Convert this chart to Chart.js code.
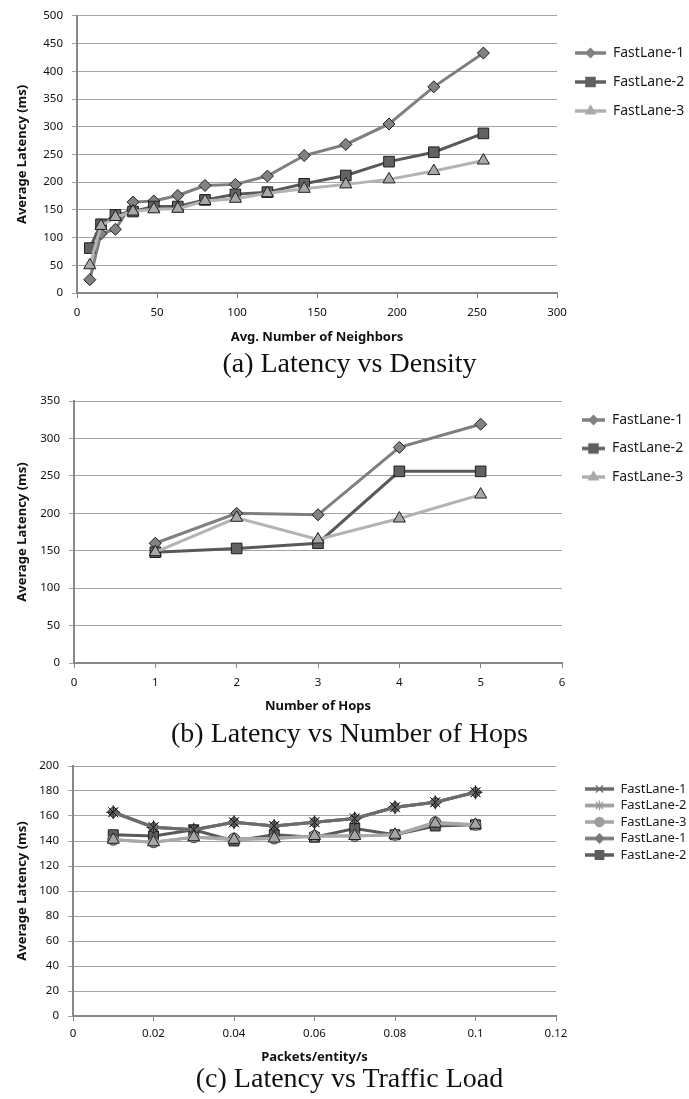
<!DOCTYPE html>
<html><head><meta charset="utf-8">
<script src="https://cdn.jsdelivr.net/npm/chart.js@4/dist/chart.umd.min.js"></script>
<style>
html,body{margin:0;padding:0;background:#fff}
body{width:689px;height:1099px;position:relative;overflow:hidden}
canvas{position:absolute;left:0}
.cap{position:absolute;left:0;width:689px;text-align:center;font-family:"Liberation Serif",serif;font-size:28px;line-height:32px;color:#111;padding-left:10px;box-sizing:border-box;white-space:nowrap}
</style></head>
<body>
<canvas id="ca" width="689" height="348" style="top:0px"></canvas>
<canvas id="cb" width="689" height="340" style="top:378px"></canvas>
<canvas id="cc" width="689" height="320" style="top:748px"></canvas>
<div class="cap" style="top:347px">(a) Latency vs Density</div>
<div class="cap" style="top:717px">(b) Latency vs Number of Hops</div>
<div class="cap" style="top:1062px">(c) Latency vs Traffic Load</div>
<script>
// ---------- data ----------
const densityNeighbors = [8, 15, 24, 35, 48, 63, 80, 99, 119, 142, 168, 195, 223, 254];
const densityFastLane1 = [24, 107, 115, 164, 166, 176, 194, 196, 211, 248, 268, 305, 372, 433];
const densityFastLane2 = [81, 124, 141, 147, 156, 156, 168, 178, 182, 197, 212, 237, 254, 288];
const densityFastLane3 = [50, 121, 137, 147, 151, 152, 166, 170, 180, 188, 196, 205, 220, 239];

const hopsCount = [1, 2, 3, 4, 5];
const hopsFastLane1 = [160, 200, 198, 288, 319];
const hopsFastLane2 = [148, 153, 160, 256, 256];
const hopsFastLane3 = [148, 194, 165, 193, 225];

const loadRate = [0.01, 0.02, 0.03, 0.04, 0.05, 0.06, 0.07, 0.08, 0.09, 0.1];
const loadFastLane1Cross = [163, 151, 149, 155, 152, 155, 158, 167, 171, 179];
const loadFastLane2Star = [163, 151, 149, 155, 152, 155, 158, 167, 171, 179];
const loadFastLane3Circle = [141, 139, 143, 142, 142, 144, 144, 145, 155, 153];
const loadFastLane1Diamond = [163, 151, 149, 155, 152, 155, 158, 167, 171, 179];
const loadFastLane2Square = [145, 144, 149, 140, 145, 143, 150, 145, 152, 153];
const loadFastLane3Triangle = [141, 139, 143, 141, 142, 144, 144, 145, 154, 153];

const seriesNames = ['FastLane-1', 'FastLane-2', 'FastLane-3'];
const yTitle = 'Average Latency (ms)';

// ---------- styling helpers ----------
const tickFont = {family: '"Noto Sans", sans-serif', size: 11.5};
const titleFont = {family: '"Noto Sans", sans-serif', size: 13, weight: 'bold'};
const AXIS = '#878787', GRID = '#a3a3a3', TXT = '#111';

function iconR(w, h, lineColor, shape, fill, edge, r) {
  const c = document.createElement('canvas');
  c.width = w; c.height = h;
  const ctx = c.getContext('2d');
  ctx.strokeStyle = lineColor; ctx.lineWidth = 3.5;
  ctx.beginPath(); ctx.moveTo(3, h / 2); ctx.lineTo(w, h / 2); ctx.stroke();
  ctx.fillStyle = fill; ctx.strokeStyle = edge; ctx.lineWidth = 1.3;
  Chart.helpers.drawPoint(ctx, {pointStyle: shape, rotation: 0, radius: r, borderWidth: 1.3}, (3 + w) / 2, h / 2);
  return c;
}

function series(label, xs, ys, st) {
  return {
    label, data: xs.map((x, i) => ({x, y: ys[i]})),
    borderColor: st.line, borderWidth: 3, backgroundColor: st.fill,
    pointStyle: st.shape, pointRadius: st.r, pointBackgroundColor: st.fill,
    pointBorderColor: st.edge, pointBorderWidth: st.ew === undefined ? 1 : st.ew,
    tension: 0, fill: false, order: st.order, clip: false
  };
}

function placeLegend(left, top) {
  return {
    id: 'placeLegend',
    afterLayout(chart) {
      const lg = chart.legend; if (!lg) return;
      const w = lg.width, h = lg.height;
      lg.left = left; lg.top = top; lg.right = left + w; lg.bottom = top + h;
    }
  };
}

function build(id, g) {
  return new Chart(document.getElementById(id), {
    type: 'line',
    data: {datasets: g.datasets},
    options: {
      responsive: false, animation: false, devicePixelRatio: 1, events: [],
      layout: {padding: {top: g.top, right: 689 - g.right, bottom: 0, left: 0}},
      scales: {
        x: {
          type: 'linear', min: g.xMin, max: g.xMax,
          ticks: {stepSize: g.xStep, font: tickFont, color: TXT, padding: g.xTickPad,
                  callback: v => String(+v.toFixed(2))},
          grid: {drawOnChartArea: false, drawTicks: true, tickLength: 5, color: AXIS},
          border: {color: AXIS, width: 2},
          title: {display: true, text: g.xTitle, font: titleFont, color: TXT, padding: {top: 0, bottom: g.xTitlePad}},
          afterFit(s) { s.height = g.xH; }
        },
        y: {
          type: 'linear', min: g.yMin, max: g.yMax,
          ticks: {stepSize: g.yStep, font: tickFont, color: TXT, padding: 9},
          grid: {color: GRID, lineWidth: 1, drawTicks: true, tickLength: 5},
          border: {color: AXIS, width: 2},
          title: {display: true, text: yTitle, font: titleFont, color: TXT, padding: {top: 14, bottom: 0}},
          afterFit(s) { s.width = g.left; }
        }
      },
      plugins: {
        tooltip: {enabled: false},
        legend: {
          position: 'chartArea', align: 'start',
          labels: {
            usePointStyle: true, pointStyleWidth: g.iconW, padding: g.lgPad,
            font: {family: '"Noto Sans", sans-serif', size: g.lgFont}, color: '#1a1a1a',
            sort: (a, b) => a.datasetIndex - b.datasetIndex,
            filter: item => !(g.hide || []).includes(item.datasetIndex),
            generateLabels(chart) {
              const items = Chart.defaults.plugins.legend.labels.generateLabels(chart);
              items.forEach(it => { it.pointStyle = g.icons[it.datasetIndex]; });
              return items;
            }
          }
        }
      }
    },
    plugins: [placeLegend(g.lgLeft - g.lgPad, g.lgTop - g.lgPad)]
  });
}

// ---------- chart (a) ----------
const stA = [
  {line: '#7f7f7f', shape: 'rectRot', r: 6, fill: '#828282', edge: '#1e1e1e', order: 3},
  {line: '#595959', shape: 'rect', r: 7.5, fill: '#626262', edge: '#1e1e1e', order: 2},
  {line: '#b3b3b3', shape: 'triangle', r: 7, fill: '#a8a8a8', edge: '#1e1e1e', order: 1}
];
function stdIcons(w) {
  return [
    iconR(w, 14, '#808080', 'rectRot', '#808080', '#808080', 4.5),
    iconR(w, 14, '#606060', 'rect', '#606060', '#606060', 6.5),
    iconR(w, 14, '#b0b0b0', 'triangle', '#a9a9a9', '#a9a9a9', 5.5)
  ];
}
build('ca', {
  datasets: [
    series(seriesNames[0], densityNeighbors, densityFastLane1, stA[0]),
    series(seriesNames[1], densityNeighbors, densityFastLane2, stA[1]),
    series(seriesNames[2], densityNeighbors, densityFastLane3, stA[2])
  ],
  top: 13, right: 557, left: 77, xH: 55, xTickPad: 8, xTitlePad: 3,
  xMin: 0, xMax: 300, xStep: 50, yMin: 0, yMax: 500, yStep: 50,
  xTitle: 'Avg. Number of Neighbors',
  iconW: 34, lgPad: 15, lgFont: 14, lgLeft: 572, lgTop: 46, icons: stdIcons(34)
});

// ---------- chart (b) ----------
const stB = [
  {line: '#7f7f7f', shape: 'rectRot', r: 6, fill: '#828282', edge: '#1e1e1e', order: 3},
  {line: '#595959', shape: 'rect', r: 7.5, fill: '#626262', edge: '#1e1e1e', order: 2},
  {line: '#b3b3b3', shape: 'triangle', r: 7, fill: '#a8a8a8', edge: '#1e1e1e', order: 1}
];
build('cb', {
  datasets: [
    series(seriesNames[0], hopsCount, hopsFastLane1, stB[0]),
    series(seriesNames[1], hopsCount, hopsFastLane2, stB[1]),
    series(seriesNames[2], hopsCount, hopsFastLane3, stB[2])
  ],
  top: 23, right: 562, left: 74, xH: 55, xTickPad: 8, xTitlePad: 4,
  xMin: 0, xMax: 6, xStep: 1, yMin: 0, yMax: 350, yStep: 50,
  xTitle: 'Number of Hops',
  iconW: 26, lgPad: 14.5, lgFont: 14, lgLeft: 579, lgTop: 35, icons: stdIcons(26)
});

// ---------- chart (c) ----------
const stC = [
  {line: '#6b6b6b', shape: 'crossRot', r: 6.5, fill: '#6b6b6b', edge: '#111', ew: 1, order: 3},
  {line: '#8e8e8e', shape: 'star', r: 7, fill: '#8e8e8e', edge: '#222', ew: 1, order: 4},
  {line: '#a3a3a3', shape: 'circle', r: 5.5, fill: '#9c9c9c', edge: '#444', order: 2},
  {line: '#747474', shape: 'rectRot', r: 6, fill: '#6e6e6e', edge: '#1e1e1e', order: 5},
  {line: '#595959', shape: 'rect', r: 7, fill: '#5e5e5e', edge: '#1e1e1e', order: 6},
  {line: '#a9a9a9', shape: 'triangle', r: 7, fill: '#a6a6a6', edge: '#1e1e1e', order: 1}
];
const iconsC = [
  iconR(32, 12, '#6b6b6b', 'crossRot', '#6b6b6b', '#6b6b6b', 5),
  iconR(32, 12, '#9a9a9a', 'star', '#9a9a9a', '#9a9a9a', 5),
  iconR(32, 12, '#a6a6a6', 'circle', '#9e9e9e', '#9e9e9e', 4.5),
  iconR(32, 12, '#767676', 'rectRot', '#767676', '#767676', 4.5),
  iconR(32, 12, '#5c5c5c', 'rect', '#5c5c5c', '#5c5c5c', 6),
  iconR(32, 12, '#a9a9a9', 'triangle', '#a9a9a9', '#a9a9a9', 5)
];
build('cc', {
  datasets: [
    series(seriesNames[0], loadRate, loadFastLane1Cross, stC[0]),
    series(seriesNames[1], loadRate, loadFastLane2Star, stC[1]),
    series(seriesNames[2], loadRate, loadFastLane3Circle, stC[2]),
    series(seriesNames[0], loadRate, loadFastLane1Diamond, stC[3]),
    series(seriesNames[1], loadRate, loadFastLane2Square, stC[4]),
    series(seriesNames[2], loadRate, loadFastLane3Triangle, stC[5])
  ],
  top: 18, right: 556, left: 73, xH: 52, xTickPad: 6, xTitlePad: 3,
  xMin: 0, xMax: 0.12, xStep: 0.02, yMin: 0, yMax: 200, yStep: 20,
  xTitle: 'Packets/entity/s',
  iconW: 32, lgPad: 3.5, lgFont: 13, lgLeft: 582, lgTop: 782.5 - 748, icons: iconsC, hide: [5]
});
</script>
</body></html>
